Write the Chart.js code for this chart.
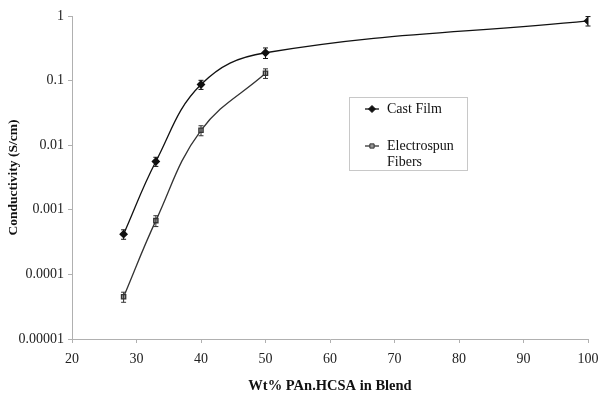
<!DOCTYPE html>
<html>
<head>
<meta charset="utf-8">
<script src="https://cdn.jsdelivr.net/npm/chart.js@4.4.0/dist/chart.umd.min.js"></script>
<style>
  html, body { margin: 0; padding: 0; background: #fff; }
  #wrap { width: 599px; height: 395px; }
</style>
</head>
<body>
<div id="wrap"><canvas id="chart" width="599" height="395"></canvas></div>
<script>
// Data
const castX = [28, 33, 40, 50, 100];
const castY = [0.00042, 0.0056, 0.087, 0.27, 0.84];
const castErr = [0.00007, 0.0009, 0.014, 0.05, 0.14];

const fiberX = [28, 33, 40, 50];
const fiberY = [0.000045, 0.00068, 0.017, 0.13];
const fiberErr = [0.000008, 0.00013, 0.003, 0.022];

const yTicks = [1, 0.1, 0.01, 0.001, 0.0001, 0.00001];
const yTickLabels = ['1', '0.1', '0.01', '0.001', '0.0001', '0.00001'];

const seriesNames = ['Cast Film', 'Electrospun Fibers'];

const SERIF = "'Liberation Serif', 'Times New Roman', serif";

const toPoints = (xs, ys) => xs.map((x, i) => ({ x: x, y: ys[i] }));

/**
 * Vertical error bars, drawn through the chart's own scales
 */
const errorBars = {
    id: 'errorBars',
    afterDatasetsDraw(chart) {
        const ctx = chart.ctx;
        const xs = chart.scales.x;
        const ys = chart.scales.y;
        chart.data.datasets.forEach(ds => {
            if (!ds.errors) return;
            ctx.save();
            ctx.strokeStyle = ds.borderColor;
            ctx.lineWidth = 1;
            ds.data.forEach((p, i) => {
                const px = xs.getPixelForValue(p.x);
                const top = ys.getPixelForValue(p.y + ds.errors[i]);
                const bot = ys.getPixelForValue(p.y - ds.errors[i]);
                ctx.beginPath();
                ctx.moveTo(px, top); ctx.lineTo(px, bot);
                ctx.moveTo(px - 2.5, top); ctx.lineTo(px + 2.5, top);
                ctx.moveTo(px - 2.5, bot); ctx.lineTo(px + 2.5, bot);
                ctx.stroke();
            });
            ctx.restore();
        });
    }
};

/**
 * Boxed legend sitting inside the plot, like the original figure
 */
const boxLegend = {
    id: 'boxLegend',
    afterDraw(chart) {
        const ctx = chart.ctx;
        const bx = 349, by = 97, bw = 118, bh = 73;
        ctx.save();
        ctx.strokeStyle = '#c8c8c8';
        ctx.lineWidth = 1;
        ctx.strokeRect(bx + 0.5, by + 0.5, bw, bh);

        const rows = [by + 12, by + 49];
        ctx.font = '14px ' + SERIF;
        ctx.textBaseline = 'middle';
        chart.data.datasets.forEach((ds, i) => {
            const y = rows[i];
            ctx.strokeStyle = ds.borderColor;
            ctx.lineWidth = 1.3;
            ctx.beginPath();
            ctx.moveTo(bx + 16, y); ctx.lineTo(bx + 30, y);
            ctx.stroke();
            ctx.fillStyle = ds.pointBackgroundColor;
            ctx.strokeStyle = ds.pointBorderColor;
            ctx.lineWidth = 1;
            Chart.helpers.drawPoint(ctx, {
                pointStyle: ds.pointStyle,
                radius: ds.pointRadius,
                borderWidth: 1
            }, bx + 23, y);
            ctx.fillStyle = '#111';
            const words = ds.label.split(' ');
            if (words.length > 1 && i === 1) {
                ctx.fillText(words[0], bx + 38, y);
                ctx.fillText(words.slice(1).join(' '), bx + 38, y + 16);
            } else {
                ctx.fillText(ds.label, bx + 38, y);
            }
        });
        ctx.restore();
    }
};

const ctx = document.getElementById('chart').getContext('2d');
new Chart(ctx, {
    type: 'line',
    data: {
        datasets: [{
            label: seriesNames[0],
            data: toPoints(castX, castY),
            errors: castErr,
            borderColor: '#111',
            borderWidth: 1.3,
            pointStyle: 'rectRot',
            pointRadius: 3.5,
            pointBackgroundColor: '#111',
            pointBorderColor: '#111',
            tension: 0.4,
            fill: false
        }, {
            label: seriesNames[1],
            data: toPoints(fiberX, fiberY),
            errors: fiberErr,
            borderColor: '#333',
            borderWidth: 1.3,
            pointStyle: 'rect',
            pointRadius: 3,
            pointBackgroundColor: '#999',
            pointBorderColor: '#333',
            tension: 0.4,
            fill: false
        }]
    },
    options: {
        responsive: false,
        animation: false,
        layout: {
            padding: { top: 16, right: 11, left: 0, bottom: 0 }
        },
        plugins: {
            legend: { display: false },
            tooltip: { enabled: false }
        },
        scales: {
            x: {
                type: 'linear',
                min: 20,
                max: 100,
                afterFit: scale => {
                    scale.height = 56;
                    scale.paddingRight = 0;
                    scale.paddingLeft = 0;
                },
                border: { color: '#b0b0b0', width: 1 },
                grid: { drawOnChartArea: false, tickLength: 4, color: '#b0b0b0' },
                ticks: {
                    stepSize: 10,
                    padding: 8,
                    color: '#222',
                    font: { family: SERIF, size: 14 }
                },
                title: {
                    display: true,
                    text: 'Wt% PAn.HCSA in Blend',
                    color: '#111',
                    font: { family: SERIF, size: 14.5, weight: 'bold' },
                    padding: { top: 0, bottom: 0 }
                }
            },
            y: {
                type: 'logarithmic',
                min: 0.00001,
                max: 1,
                afterFit: scale => { scale.width = 72; },
                afterBuildTicks: scale => {
                    scale.ticks = yTicks.map(v => ({ value: v }));
                },
                border: { color: '#b0b0b0', width: 1 },
                grid: { drawOnChartArea: false, tickLength: 4, color: '#b0b0b0' },
                ticks: {
                    padding: 4,
                    color: '#222',
                    font: { family: SERIF, size: 14 },
                    callback: value => {
                        const i = yTicks.indexOf(value);
                        return i >= 0 ? yTickLabels[i] : '';
                    }
                },
                title: {
                    display: true,
                    text: 'Conductivity (S/cm)',
                    color: '#111',
                    font: { family: SERIF, size: 13.5, weight: 'bold' },
                    padding: { top: 5, bottom: 0 }
                }
            }
        }
    },
    plugins: [errorBars, boxLegend]
});
</script>
</body>
</html>
